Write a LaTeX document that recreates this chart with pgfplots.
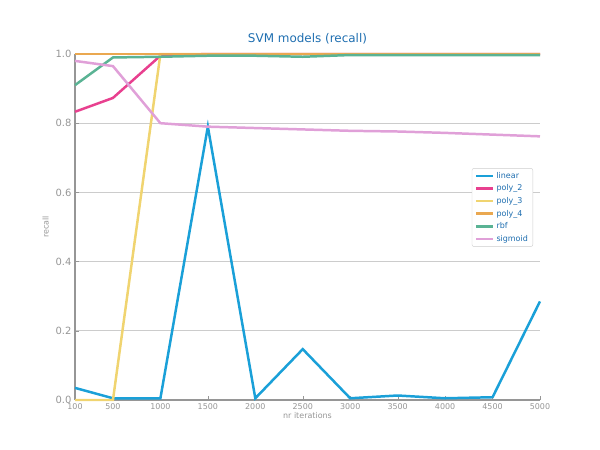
\documentclass[border=0pt]{standalone}
\usepackage{fontspec}
\setmainfont{DejaVu Sans}
\usepackage{pgfplots}
\pgfplotsset{compat=1.18}
\definecolor{cl}{RGB}{26,160,216}
\definecolor{cp2}{RGB}{232,64,143}
\definecolor{cp3}{RGB}{240,212,112}
\definecolor{cp4}{RGB}{234,168,80}
\definecolor{crbf}{RGB}{90,179,148}
\definecolor{csig}{RGB}{224,160,216}
\definecolor{ctit}{RGB}{30,110,176}
\definecolor{gax}{RGB}{150,150,150}
\begin{document}
\begin{tikzpicture}
\path[use as bounding box] (0,0) rectangle (600bp,450bp);
\begin{axis}[at={(75bp,50bp)},anchor=south west,
 width=465bp,height=346bp,scale only axis,
 xmin=100,xmax=5000,ymin=0,ymax=1,
 xtick={100,500,1000,1500,2000,2500,3000,3500,4000,4500,5000},
 ytick={0,0.2,0.4,0.6,0.8,1.0},
 yticklabel style={/pgf/number format/fixed,/pgf/number format/fixed zerofill,/pgf/number format/precision=1,font=\fontsize{10}{10}\selectfont},
 /pgf/number format/assume math mode=true,
 /pgf/number format/1000 sep={},
 ymajorgrids, grid style={gray!40,line width=0.8pt},
 axis x line*=bottom, axis y line*=left,
 axis line style={gax,line width=2.5pt,-},
 tick style={gax},
 ticklabel style={text=gax},
 xticklabel style={font=\fontsize{8}{10}\selectfont},
 xlabel={nr iterations}, ylabel={recall},
 label style={font=\fontsize{8}{10}\selectfont,text=gax},
 xlabel style={yshift=4pt},
 title={SVM models (recall)}, title style={font=\fontsize{12}{14}\selectfont,text=ctit},
 legend style={at={(0.985,0.67)},anchor=north east,font=\fontsize{8}{10}\selectfont,text=ctit,draw=gray!40,rounded corners=2pt,row sep=1pt},
 legend cell align=left,
 every axis plot/.append style={line width=2.5pt},
 clip=false]
\addplot[cl] coordinates {(100,0.035)(500,0.005)(1000,0.005)(1500,0.79)(2000,0.005)(2500,0.147)(3000,0.005)(3500,0.013)(4000,0.005)(4500,0.008)(5000,0.285)};
\addplot[cp2] coordinates {(100,0.833)(500,0.873)(1000,0.995)(1500,1)(2000,1)(2500,1)(3000,1)(3500,1)(4000,1)(4500,1)(5000,1)};
\addplot[cp3] coordinates {(100,0)(500,0)(1000,1)(1500,1)(2000,1)(2500,1)(3000,1)(3500,1)(4000,1)(4500,1)(5000,1)};
\addplot[cp4] coordinates {(100,1)(500,1)(1000,1)(1500,1)(2000,1)(2500,1)(3000,1)(3500,1)(4000,1)(4500,1)(5000,1)};
\addplot[crbf] coordinates {(100,0.91)(500,0.99)(1000,0.992)(1500,0.995)(2000,0.995)(2500,0.992)(3000,0.997)(3500,0.997)(4000,0.997)(4500,0.997)(5000,0.997)};
\addplot[csig] coordinates {(100,0.98)(500,0.965)(1000,0.80)(1500,0.79)(2000,0.786)(2500,0.782)(3000,0.778)(3500,0.776)(4000,0.772)(4500,0.767)(5000,0.762)};
\legend{linear,poly\_2,poly\_3,poly\_4,rbf,sigmoid}
\end{axis}
\end{tikzpicture}
\end{document}
